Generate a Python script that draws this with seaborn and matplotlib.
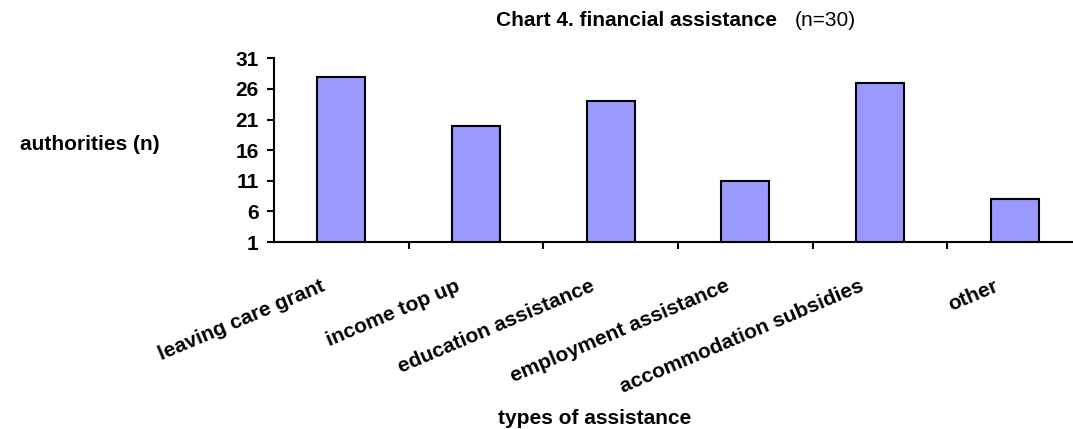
import matplotlib
matplotlib.use("Agg")
import matplotlib.pyplot as plt
import matplotlib.transforms as mtransforms
import seaborn as sns
import pandas as pd
import numpy as np

categories = ["leaving care grant", "income top up", "education assistance",
              "employment assistance", "accommodation subsidies", "other"]
values = [28, 20, 24, 11, 27, 8]
y_ticks = [1, 6, 11, 16, 21, 26, 31]

sns.set_style("white")
plt.rcParams['font.family'] = ['Liberation Sans', 'DejaVu Sans']
plt.rcParams['text.color'] = 'black'
plt.rcParams['xtick.color'] = 'black'
plt.rcParams['ytick.color'] = 'black'

FS = 15

df = pd.DataFrame({"type": categories, "n": values})

fig = plt.figure(figsize=(10.73, 4.29), dpi=100)
ax = fig.add_axes([274/1073, 1-242/429, (1082-274)/1073, (242-58.3)/429])

sns.barplot(data=df, x="type", y="n", ax=ax, color="#9999FF",
            edgecolor="black", linewidth=1.5, width=0.355, saturation=1)

ax.set_ylim(1, 31)
ax.set_xlim(-0.5, len(categories)-0.5)
ax.set_yticks(y_ticks)
ax.set_yticklabels([str(t) for t in y_ticks], fontsize=FS, fontweight="bold")
ax.set_xticks(range(len(categories)))
ax.set_xticklabels(categories, fontsize=FS, fontweight="bold", rotation=23,
                   ha="right", va="center", rotation_mode="anchor")
ax.set_xticks(np.arange(0.5, len(categories)-0.5, 1.0), minor=True)
ax.tick_params(axis="x", which="major", length=0, pad=31)
ax.tick_params(axis="x", which="minor", length=5, width=1.5, direction="out", bottom=True)
ax.tick_params(axis="y", length=5, width=1.5, direction="out", left=True, pad=6)
ax.set_xlabel("")
ax.set_ylabel("")
for s in ["top", "right"]:
    ax.spines[s].set_visible(False)
for s in ["left", "bottom"]:
    ax.spines[s].set_color("black")
    ax.spines[s].set_linewidth(1.5)

offset = mtransforms.ScaledTranslation(-17/100, 0, fig.dpi_scale_trans)
for lab in ax.get_xticklabels():
    lab.set_transform(lab.get_transform() + offset)

fig.text(90/1073, 1-145/429, "authorities (n)", fontsize=FS, fontweight="bold",
         ha="center", va="center")
fig.text(595/1073, 1-418/429, "types of assistance", fontsize=FS, fontweight="bold",
         ha="center", va="center")
fig.text(777/1073, 1-21/429, "Chart 4. financial assistance", fontsize=FS,
         fontweight="bold", ha="right", va="center")
fig.text(795/1073, 1-21/429, "(n=30)", fontsize=FS, ha="left", va="center")

fig.savefig("out.png", dpi=100)
